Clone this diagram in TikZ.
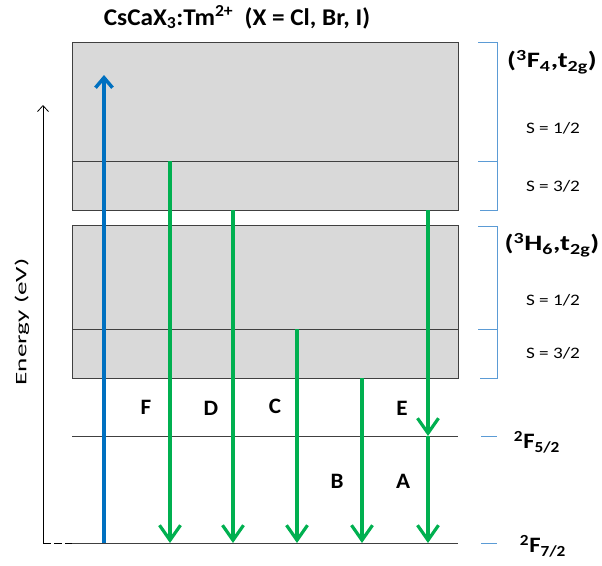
\documentclass[tikz,border=0pt]{standalone}
\usepackage{fontspec}
\setmainfont{Carlito}
\usetikzlibrary{arrows.meta}
\definecolor{ggreen}{HTML}{00B050}
\definecolor{bblue}{HTML}{0070C0}
\definecolor{brk}{HTML}{5B9BD5}
\definecolor{boxfill}{HTML}{D9D9D9}
\definecolor{edge}{HTML}{404040}
\tikzset{
  band/.style={draw=edge, fill=boxfill, line width=1pt},
  level/.style={draw=edge, line width=1pt},
  emit/.style={draw=ggreen, line width=3.2pt, -{Straight Barb[length=15pt,width=21pt]}},
  absorb/.style={draw=bblue, line width=3.5pt, -{Straight Barb[length=10pt,width=17pt]}},
  brack/.style={draw=brk, line width=1pt},
  lab/.style={font=\fontsize{22}{26}\selectfont\bfseries},
  slab/.style={font=\fontsize{16}{19}\selectfont},
  tlab/.style={font=\fontsize{24}{28}\selectfont\bfseries},
  rlab/.style={font=\fontsize{22}{26}\selectfont\bfseries},
}
\begin{document}
\begin{tikzpicture}[x=1pt,y=-1pt]
\useasboundingbox (0,0) rectangle (602,565);
% title
\node[tlab] (title) at (237,17) {\scalebox{1.05}[1]{CsCaX\textsubscript{3}:Tm\textsuperscript{2+}\ \ (X = Cl, Br, I)}};
% bands
\draw[band] (72,42) rectangle (458,210);
\draw[level] (72,161) -- (458,161);
\draw[band] (72,225) rectangle (458,378);
\draw[level] (72,329) -- (458,329);
% ground levels
\draw[level] (72,436) -- (458,436);
\draw[level] (72,543) -- (458,543);
% energy axis
\coordinate (ax0) at (43,543);
\coordinate (ax1) at (43,105);
\draw[line width=0.8pt, -{Straight Barb[length=6pt,width=11pt]}] (ax0) -- (ax1);
\draw[line width=0.8pt, dash pattern=on 8pt off 3pt] (43,543) -- (72,543);
\node[slab, rotate=90] (energy) at (22,322) {\scalebox{1.7}[1]{Energy (eV)}};
% brackets
\draw[brack] (478,42) -- (497,42) -- (497,210) -- (480,210);
\draw[brack] (478,161) -- (497,161);
\draw[brack] (478,226) -- (497,226) -- (497,378) -- (480,378);
\draw[brack] (478,329) -- (497,329);
\draw[brack] (481,436) -- (497,436);
\draw[brack] (481,543) -- (497,543);
% right labels
\node[rlab] (f4) at (552,62) {\scalebox{1.3}[1]{(\textsuperscript{3}F\textsubscript{4},t\textsubscript{2g})}};
\node[slab] (s1a) at (553,128) {\scalebox{1.2}[1]{S = 1/2}};
\node[slab] (s3a) at (553,186) {\scalebox{1.2}[1]{S = 3/2}};
\node[rlab] (h6) at (552,245) {\scalebox{1.3}[1]{(\textsuperscript{3}H\textsubscript{6},t\textsubscript{2g})}};
\node[slab] (s1b) at (553,300) {\scalebox{1.2}[1]{S = 1/2}};
\node[slab] (s3b) at (553,353) {\scalebox{1.2}[1]{S = 3/2}};
\node[rlab] (f52) at (537,442) {\scalebox{1.12}[1]{\textsuperscript{2}F\textsubscript{5/2}}};
\node[rlab] (f72) at (543,546) {\scalebox{1.12}[1]{\textsuperscript{2}F\textsubscript{7/2}}};
% arrows
\coordinate (b0) at (104,543); \coordinate (b1) at (104,75);
\draw[absorb] (b0) -- (b1);
\coordinate (g1s) at (170,161); \coordinate (g1e) at (170,543);
\coordinate (g2s) at (233,210); \coordinate (g2e) at (233,543);
\coordinate (g3s) at (297,329); \coordinate (g3e) at (297,543);
\coordinate (g4s) at (362,378); \coordinate (g4e) at (362,543);
\coordinate (g5s) at (428,210); \coordinate (g5m) at (428,436); \coordinate (g5e) at (428,543);
\draw[emit] (g1s) -- (g1e);
\draw[emit] (g2s) -- (g2e);
\draw[emit] (g3s) -- (g3e);
\draw[emit] (g4s) -- (g4e);
\draw[emit] (g5s) -- (g5m);
\draw[emit] (g5m) -- (g5e);
% letters
\node[lab] (F) at (146,407) {\scalebox{1.05}[1]{F}};
\node[lab] (D) at (211,408) {\scalebox{1.05}[1]{D}};
\node[lab] (C) at (275,406) {\scalebox{1.05}[1]{C}};
\node[lab] (E) at (402,408) {\scalebox{1.05}[1]{E}};
\node[lab] (B) at (337,481) {\scalebox{1.05}[1]{B}};
\node[lab] (A) at (403,481) {\scalebox{1.05}[1]{A}};
\end{tikzpicture}
\end{document}
